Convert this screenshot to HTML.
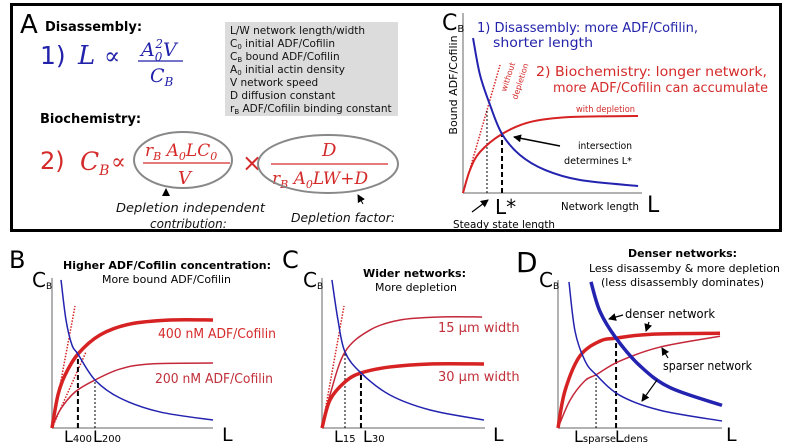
<!DOCTYPE html>
<html><head><meta charset="utf-8">
<style>
html,body{margin:0;padding:0;background:#fff;}
svg{display:block;font-family:"DejaVu Sans","Liberation Sans",sans-serif;}
.ser{font-family:"DejaVu Serif","Liberation Serif",serif;font-style:italic;}
</style></head>
<body>
<svg id="fig" width="788" height="448" viewBox="0 0 788 448">
<defs>
<marker id="ah" markerWidth="8" markerHeight="8" refX="7" refY="4" orient="auto" markerUnits="userSpaceOnUse">
<path d="M0,0 L8,4 L0,8 z" fill="#000"/></marker>
</defs>
<rect x="11.5" y="4.5" width="769" height="226" fill="none" stroke="#000" stroke-width="3"/>
<g>
<text x="20" y="33" font-size="26">A</text>
<text x="45" y="31" font-size="13" font-weight="bold">Disassembly:</text>
<g fill="#2222aa">
<text x="40" y="64" font-size="25">1)</text>
<text x="78" y="64" font-size="26" class="ser">L</text>
<text x="104" y="64" font-size="24" class="ser" style="font-style:normal">∝</text>
<text x="141" y="56" font-size="19" class="ser">A<tspan font-size="12" dy="5">0</tspan><tspan font-size="12" dx="-7" dy="-13">2</tspan><tspan font-size="19" dy="8">V</tspan></text>
<line x1="138" y1="61" x2="183" y2="61" stroke="#2222aa" stroke-width="1.2"/>
<text x="150" y="82" font-size="19" class="ser">C<tspan font-size="12" dy="4">B</tspan></text>
</g>
<rect x="225" y="22" width="173" height="94" fill="#dcdcdc"/>
<g font-size="10.5" fill="#111">
<text x="230" y="34">L/W  network length/width</text>
<text x="230" y="47">C<tspan font-size="7" dy="2">0</tspan><tspan dy="-2">  initial ADF/Cofilin</tspan></text>
<text x="230" y="60">C<tspan font-size="7" dy="2">B</tspan><tspan dy="-2">  bound ADF/Cofilin</tspan></text>
<text x="230" y="73">A<tspan font-size="7" dy="2">0</tspan><tspan dy="-2">  initial actin density</tspan></text>
<text x="230" y="86">V    network speed</text>
<text x="230" y="99">D    diffusion constant</text>
<text x="230" y="112">r<tspan font-size="7" dy="2">B</tspan><tspan dy="-2">  ADF/Cofilin binding constant</tspan></text>
</g>
<text x="40" y="123" font-size="13" font-weight="bold">Biochemistry:</text>
<g fill="#d42a2a">
<text x="40" y="169" font-size="24">2)</text>
<text x="80" y="170" font-size="25" class="ser">C<tspan font-size="14" dy="5">B</tspan></text>
<text x="111" y="169" font-size="22" class="ser" style="font-style:normal">∝</text>
<text x="145" y="156" font-size="17" class="ser">r<tspan font-size="11" dy="4">B</tspan><tspan dy="-4"> A</tspan><tspan font-size="11" dy="4">0</tspan><tspan dy="-4">LC</tspan><tspan font-size="11" dy="4">0</tspan></text>
<line x1="143" y1="163" x2="230" y2="163" stroke="#d42a2a" stroke-width="1.2"/>
<text x="178" y="184" font-size="18" class="ser">V</text>
<text x="242" y="171" font-size="24">×</text>
<text x="322" y="156" font-size="18" class="ser">D</text>
<line x1="271" y1="164" x2="388" y2="164" stroke="#d42a2a" stroke-width="1.2"/>
<text x="272" y="184" font-size="17" class="ser">r<tspan font-size="11" dy="4">B</tspan><tspan dy="-4"> A</tspan><tspan font-size="11" dy="4">0</tspan><tspan dy="-4">LW+D</tspan></text>
</g>
<ellipse cx="183" cy="160" rx="49" ry="28" fill="none" stroke="#888" stroke-width="2"/>
<ellipse cx="328" cy="164" rx="70" ry="29" fill="none" stroke="#888" stroke-width="2"/>
<line x1="166" y1="196" x2="166" y2="189" stroke="#000" marker-end="url(#ah)"/>
<line x1="363" y1="204" x2="358" y2="195" stroke="#000" marker-end="url(#ah)"/>
<g font-size="12" font-style="italic" fill="#111">
<text x="116" y="212" textLength="149" lengthAdjust="spacingAndGlyphs">Depletion independent</text>
<text x="150" y="228">contribution:</text>
<text x="291" y="222" textLength="104" lengthAdjust="spacingAndGlyphs">Depletion factor:</text>
</g>
</g>
<g id="charts"></g>
<g>
<text x="442" y="30" font-size="22">C<tspan font-size="10" dy="2">B</tspan></text>
<text x="457" y="85" font-size="11" transform="rotate(-90 457 85)" text-anchor="middle">Bound ADF/Cofilin</text>
<text x="477" y="32" font-size="13" fill="#2222aa" textLength="221" lengthAdjust="spacingAndGlyphs">1) Disassembly: more ADF/Cofilin,</text>
<text x="493" y="47" font-size="13" fill="#2222aa" textLength="100" lengthAdjust="spacingAndGlyphs">shorter length</text>
<text x="536" y="76" font-size="13" fill="#d42a2a" textLength="231" lengthAdjust="spacingAndGlyphs">2) Biochemistry: longer network,</text>
<text x="553" y="92" font-size="13" fill="#d42a2a" textLength="215" lengthAdjust="spacingAndGlyphs">more ADF/Cofilin can accumulate</text>
<text x="576" y="112" font-size="9" fill="#d42a2a" textLength="59" lengthAdjust="spacingAndGlyphs">with depletion</text>
<text x="506" y="92" font-size="8" fill="#d42a2a" transform="rotate(-72 506 92)">without</text>
<text x="517" y="100" font-size="8" fill="#d42a2a" transform="rotate(-72 517 100)">depletion</text>
<text x="578" y="149" font-size="10" textLength="54" lengthAdjust="spacingAndGlyphs">intersection</text>
<text x="564" y="164" font-size="10" textLength="68" lengthAdjust="spacingAndGlyphs">determines L*</text>
<line x1="560" y1="146" x2="514" y2="137" stroke="#000" stroke-width="1.5" marker-end="url(#ah)"/>
<text x="495" y="214" font-size="20">L*</text>
<text x="561" y="210" font-size="11" textLength="78" lengthAdjust="spacingAndGlyphs">Network length</text>
<text x="647" y="212" font-size="22">L</text>
<text x="453" y="228" font-size="11" textLength="102" lengthAdjust="spacingAndGlyphs">Steady state length</text>
<line x1="472" y1="212" x2="488" y2="200" stroke="#000" stroke-width="1.2" marker-end="url(#ah)"/>
</g>
<g>
<text x="9" y="268" font-size="24">B</text>
<text x="63" y="269" font-size="11" font-weight="bold" textLength="208" lengthAdjust="spacingAndGlyphs">Higher ADF/Cofilin concentration:</text>
<text x="102" y="283" font-size="11" textLength="129" lengthAdjust="spacingAndGlyphs">More bound ADF/Cofilin</text>
<text x="32" y="287" font-size="20">C<tspan font-size="9" dy="2">B</tspan></text>
<text x="158" y="338" font-size="13" fill="#d42a2a" textLength="118" lengthAdjust="spacingAndGlyphs">400 nM ADF/Cofilin</text>
<text x="155" y="383" font-size="13" fill="#c0303a" textLength="118" lengthAdjust="spacingAndGlyphs">200 nM ADF/Cofilin</text>
<text x="64" y="442" font-size="16">L<tspan font-size="10">400</tspan></text>
<text x="93" y="442" font-size="16">L<tspan font-size="10">200</tspan></text>
<text x="222" y="441" font-size="19">L</text>
</g>
<g>
<text x="282" y="268" font-size="24">C</text>
<text x="303" y="287" font-size="20">C<tspan font-size="9" dy="2">B</tspan></text>
<text x="363" y="277" font-size="11" font-weight="bold" textLength="103" lengthAdjust="spacingAndGlyphs">Wider networks:</text>
<text x="375" y="291" font-size="11" textLength="82" lengthAdjust="spacingAndGlyphs">More depletion</text>
<text x="438" y="332" font-size="13" fill="#c0303a">15 μm width</text>
<text x="438" y="381" font-size="13" fill="#c0303a">30 μm width</text>
<text x="334" y="442" font-size="16">L<tspan font-size="10">15</tspan></text>
<text x="363" y="442" font-size="16">L<tspan font-size="10">30</tspan></text>
<text x="493" y="441" font-size="19">L</text>
</g>
<g>
<text x="516" y="272" font-size="28">D</text>
<text x="539" y="287" font-size="20">C<tspan font-size="9" dy="2">B</tspan></text>
<text x="628" y="257" font-size="11" font-weight="bold" textLength="109" lengthAdjust="spacingAndGlyphs">Denser networks:</text>
<text x="589" y="272" font-size="11" textLength="191" lengthAdjust="spacingAndGlyphs">Less disassemby &amp; more depletion</text>
<text x="601" y="286" font-size="11" textLength="163" lengthAdjust="spacingAndGlyphs">(less disassembly dominates)</text>
<text x="625" y="318" font-size="12" textLength="90" lengthAdjust="spacingAndGlyphs">denser network</text>
<text x="663" y="370" font-size="12" textLength="89" lengthAdjust="spacingAndGlyphs">sparser network</text>
<line x1="623" y1="315" x2="609" y2="319" stroke="#000" stroke-width="1.2" marker-end="url(#ah)"/>
<line x1="649" y1="322" x2="646" y2="331" stroke="#000" stroke-width="1.2" marker-end="url(#ah)"/>
<line x1="668" y1="358" x2="662" y2="348" stroke="#000" stroke-width="1.2" marker-end="url(#ah)"/>
<line x1="657" y1="380" x2="642" y2="401" stroke="#000" stroke-width="1.2" marker-end="url(#ah)"/>
<text x="574" y="442" font-size="16">L<tspan font-size="10">sparse</tspan></text>
<text x="615" y="442" font-size="16">L<tspan font-size="10">dens</tspan></text>
<text x="726" y="441" font-size="19">L</text>
</g>
</svg>
<script>
// Data in normalized units: L 0..100 along x-axis, C_B 0..100 along y-axis
const aDisX = [5.6, 9.5, 15.1, 21.8, 31.8, 45.8, 65.4, 97.8];
const aDisY = [86.1, 65.6, 48.9, 32.8, 21.1, 12.8, 7.2, 3.9];
const aBioX = [0, 3.9, 9.5, 21.8, 37.4, 59.8, 97.8];
const aBioY = [0, 12.8, 22.8, 32.8, 39.4, 42.2, 42.8];
const aNoDepX = [0, 20.7];
const aNoDepY = [0, 71.1];
const aSteady = [13.4, 21.8];
const bDisX = [5.6, 8.7, 12.4, 16.1, 26.7, 42.2, 67, 100];
const bDisY = [98.7, 72, 55.3, 49.3, 32, 20, 10.7, 5.3];
const b400X = [0, 3.7, 8.1, 16.1, 29.8, 48.4, 73.3, 100];
const b400Y = [0, 22, 35.3, 49.3, 62, 69.3, 72, 72];
const b200X = [0, 5, 14.3, 26.7, 42.2, 60.9, 100];
const b200Y = [0, 12, 24, 32, 39.3, 42.7, 43.3];
const bNoDep400 = [14.3, 81.3];
const bNoDep200 = [21.1, 50.7];
const bSteady = [16.1, 26.7];
const cDisX = [6.1, 9.8, 14.1, 23.9, 41.7, 66.3, 99.4];
const cDisY = [98.7, 72, 50.7, 36.7, 22, 12, 5.3];
const c15X = [0, 4.9, 14.1, 29.4, 47.9, 72.4, 98.2];
const c15Y = [0, 22, 50.7, 65.3, 72, 74, 74];
const c30X = [0, 4.9, 14.1, 23.9, 41.7, 66.3, 99.4];
const c30Y = [0, 18.7, 30.7, 36.7, 40.7, 42.7, 42.7];
const cNoDep = [13.5, 81.3];
const cSteady = [14.1, 23.9];
const dSparseDisX = [6.7, 10.4, 16.5, 23.2, 37.8, 62.2, 100];
const dSparseDisY = [98.7, 65.3, 45.3, 36, 22, 12, 4.7];
const dDenseDisX = [20.1, 25.6, 35.4, 50, 68.3, 100];
const dDenseDisY = [98.7, 78.7, 60.7, 42, 27.3, 15.3];
const dDenseBioX = [0, 4.3, 13.4, 25.6, 35.4, 56.1, 98.8];
const dDenseBioY = [0, 25.3, 48.7, 58.7, 60.7, 63.3, 64];
const dSparseBioX = [0, 7.3, 16.5, 23.2, 37.8, 62.2, 98.8];
const dSparseBioY = [0, 18.7, 32, 36, 45.3, 54.7, 62];
const dSteady = [23.2, 35.4];

const NS = 'http://www.w3.org/2000/svg';
const root = document.getElementById('charts');
const BLUE = '#2323b0', RED = '#d62222', RED2 = '#c4283a';

function makeAxes(ox, oy, w, h) {
  return { sx: v => ox + v / 100 * w, sy: v => oy - v / 100 * h, ox, oy, w, h };
}
function smooth(pts) {
  let d = 'M' + pts[0][0] + ',' + pts[0][1];
  for (let i = 0; i < pts.length - 1; i++) {
    const p0 = pts[i - 1] || pts[i], p1 = pts[i], p2 = pts[i + 1], p3 = pts[i + 2] || p2;
    const c1 = [p1[0] + (p2[0] - p0[0]) / 6, p1[1] + (p2[1] - p0[1]) / 6];
    const c2 = [p2[0] - (p3[0] - p1[0]) / 6, p2[1] - (p3[1] - p1[1]) / 6];
    d += ' C' + c1 + ' ' + c2 + ' ' + p2;
  }
  return d;
}
function curve(ax, xs, ys, color, width, name) {
  const p = document.createElementNS(NS, 'path');
  p.setAttribute('d', smooth(xs.map((x, i) => [ax.sx(x), ax.sy(ys[i])])));
  p.setAttribute('fill', 'none');
  p.setAttribute('stroke', color);
  p.setAttribute('stroke-width', width);
  
  
  root.appendChild(p);
}
function line(x1, y1, x2, y2, color, width, dash, name) {
  const l = document.createElementNS(NS, 'line');
  l.setAttribute('x1', x1); l.setAttribute('y1', y1);
  l.setAttribute('x2', x2); l.setAttribute('y2', y2);
  l.setAttribute('stroke', color); l.setAttribute('stroke-width', width);
  if (dash) l.setAttribute('stroke-dasharray', dash);
  
  
  root.appendChild(l);
}
function axes(ax, name) {
  line(ax.ox, ax.oy, ax.ox, ax.oy - ax.h, '#999', 1.5, null, name + '-y-axis');
  line(ax.ox, ax.oy, ax.ox + ax.w, ax.oy, '#999', 1.5, null, name + '-x-axis');
}
function interp(xs, ys, x) {
  for (let i = 0; i < xs.length - 1; i++) {
    if (x >= xs[i] && x <= xs[i + 1]) return ys[i] + (ys[i + 1] - ys[i]) * (x - xs[i]) / (xs[i + 1] - xs[i]);
  }
  return ys[ys.length - 1];
}
function noDep(ax, pt, name) {
  line(ax.sx(0), ax.sy(0), ax.sx(pt[0]), ax.sy(pt[1]), RED, 1.5, '1.5,1.5', name);
}
function vmark(ax, x, yv, thick, name) {
  line(ax.sx(x), ax.oy, ax.sx(x), ax.sy(yv), '#000', thick ? 2 : 1, thick ? '5,3' : '2,2', name);
}

const A = makeAxes(463, 193, 179, 180);
axes(A, 'panel-a');
noDep(A, [aNoDepX[1], aNoDepY[1]], 'without-depletion-line');
vmark(A, aSteady[0], interp(aNoDepX, aNoDepY, aSteady[0]), false, 'steady-state-no-depletion-marker');
vmark(A, aSteady[1], interp(aBioX, aBioY, aSteady[1]), true, 'steady-state-marker');
curve(A, aBioX, aBioY, RED, 2, 'biochemistry-curve');
curve(A, aDisX, aDisY, BLUE, 2, 'disassembly-curve');

const B = makeAxes(52, 428, 161, 150);
axes(B, 'panel-b');
noDep(B, bNoDep400, 'without-depletion-400');
noDep(B, bNoDep200, 'without-depletion-200');
vmark(B, bSteady[0], interp(b400X, b400Y, bSteady[0]), true, 'l400-marker');
vmark(B, bSteady[1], interp(b200X, b200Y, bSteady[1]), false, 'l200-marker');
curve(B, b200X, b200Y, RED2, 1.5, 'curve-200nm');
curve(B, b400X, b400Y, RED, 3.5, 'curve-400nm');
curve(B, bDisX, bDisY, BLUE, 1.5, 'disassembly-curve-b');

const C = makeAxes(322, 428, 163, 150);
axes(C, 'panel-c');
noDep(C, cNoDep, 'without-depletion-c');
vmark(C, cSteady[0], interp(c15X, c15Y, cSteady[0]), false, 'l15-marker');
vmark(C, cSteady[1], interp(c30X, c30Y, cSteady[1]), true, 'l30-marker');
curve(C, c15X, c15Y, RED2, 1.5, 'curve-15um');
curve(C, c30X, c30Y, RED, 3.5, 'curve-30um');
curve(C, cDisX, cDisY, BLUE, 1.5, 'disassembly-curve-c');

const D = makeAxes(558, 428, 164, 148);
axes(D, 'panel-d');
vmark(D, dSteady[0], interp(dSparseBioX, dSparseBioY, dSteady[0]), false, 'lsparse-marker');
vmark(D, dSteady[1], interp(dDenseBioX, dDenseBioY, dSteady[1]), true, 'ldens-marker');
curve(D, dSparseBioX, dSparseBioY, RED2, 1.5, 'sparse-biochemistry-curve');
curve(D, dDenseBioX, dDenseBioY, RED, 3.5, 'dense-biochemistry-curve');
curve(D, dSparseDisX, dSparseDisY, BLUE, 1.5, 'sparse-disassembly-curve');
curve(D, dDenseDisX, dDenseDisY, BLUE, 3.5, 'dense-disassembly-curve');
</script>
</body></html>
